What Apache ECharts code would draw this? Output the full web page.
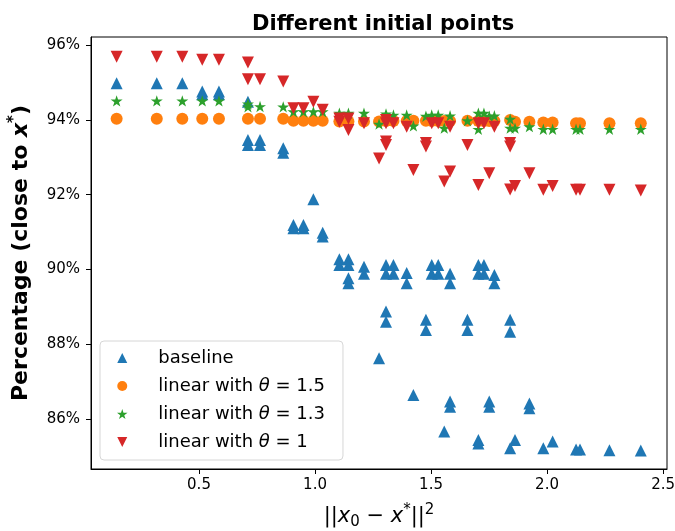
<!DOCTYPE html>
<html>
<head>
<meta charset="utf-8">
<script src="https://cdn.jsdelivr.net/npm/echarts@6/dist/echarts.min.js"></script>
<style>
  html, body { margin: 0; padding: 0; background: #fff; }
  #chart { width: 675px; height: 531px; }
</style>
</head>
<body>
<div id="chart"></div>
<script>
// values: [||x0 - x*||^2, percentage]
const baselinePts = [
  [0.145, 94.98], [0.318, 94.98], [0.428, 94.98], [0.514, 94.76], [0.514, 94.69], [0.586, 94.76], [0.586, 94.69],
  [0.711, 94.49], [0.711, 93.46], [0.711, 93.33], [0.763, 93.46], [0.763, 93.33], [0.863, 93.24], [0.863, 93.12],
  [0.907, 91.19], [0.907, 91.10], [0.950, 91.19], [0.950, 91.10], [0.993, 91.88], [1.033, 90.98], [1.033, 90.88],
  [1.105, 90.27], [1.105, 90.12], [1.144, 90.27], [1.144, 90.12], [1.144, 89.76], [1.144, 89.63],
  [1.211, 90.07], [1.211, 89.88], [1.276, 87.62],
  [1.306, 90.12], [1.306, 89.88], [1.306, 88.87], [1.306, 88.60], [1.338, 90.12], [1.338, 89.88],
  [1.395, 89.90], [1.395, 89.63], [1.424, 86.64], [1.478, 88.65], [1.478, 88.38],
  [1.503, 90.12], [1.503, 89.88], [1.531, 90.12], [1.531, 89.88], [1.557, 85.66],
  [1.582, 89.88], [1.582, 89.63], [1.582, 86.46], [1.582, 86.32], [1.657, 88.65], [1.657, 88.38],
  [1.704, 90.12], [1.704, 89.88], [1.704, 85.43], [1.704, 85.34], [1.728, 90.12], [1.728, 89.88],
  [1.751, 86.46], [1.751, 86.32], [1.773, 89.85], [1.773, 89.63],
  [1.841, 88.65], [1.841, 88.33], [1.841, 85.21], [1.862, 85.43], [1.924, 86.41], [1.924, 86.28],
  [1.984, 85.21], [2.024, 85.39], [2.125, 85.18], [2.142, 85.18], [2.269, 85.16], [2.404, 85.15]
]
const theta15Pts = [
  [0.145, 94.03], [0.318, 94.03], [0.428, 94.03], [0.514, 94.03], [0.586, 94.03], [0.711, 94.03], [0.763, 94.03], [0.863, 94.03],
  [0.907, 93.98], [0.950, 93.98], [0.993, 93.98], [1.033, 93.98],
  [1.105, 93.96], [1.144, 93.96], [1.211, 93.96], [1.276, 93.96],
  [1.306, 93.97], [1.338, 93.97], [1.395, 93.97], [1.424, 93.98], [1.478, 93.98], [1.503, 93.97], [1.531, 93.97],
  [1.557, 93.97], [1.582, 93.97], [1.657, 93.98], [1.704, 93.97], [1.728, 93.97], [1.751, 93.97], [1.773, 93.97],
  [1.841, 94.00], [1.862, 93.95], [1.924, 93.95], [1.984, 93.93], [2.024, 93.93],
  [2.125, 93.91], [2.142, 93.91], [2.269, 93.91], [2.404, 93.91]
]
const theta13Pts = [
  [0.145, 94.51], [0.318, 94.51], [0.428, 94.51], [0.514, 94.51], [0.586, 94.51],
  [0.711, 94.43], [0.711, 94.35], [0.763, 94.36], [0.863, 94.35],
  [0.907, 94.22], [0.950, 94.22], [0.993, 94.22], [1.033, 94.22],
  [1.105, 94.18], [1.144, 94.18], [1.211, 94.18], [1.276, 93.89], [1.306, 94.16], [1.338, 94.13],
  [1.395, 94.13], [1.424, 93.84], [1.478, 94.10], [1.503, 94.13], [1.531, 94.13], [1.557, 93.78], [1.582, 94.11],
  [1.657, 93.98], [1.704, 94.18], [1.704, 93.75], [1.728, 94.18], [1.751, 94.10], [1.773, 94.11],
  [1.841, 94.02], [1.841, 93.78], [1.862, 93.78], [1.924, 93.82], [1.984, 93.75], [2.024, 93.75],
  [2.125, 93.75], [2.142, 93.75], [2.269, 93.75], [2.404, 93.75]
]
const theta1Pts = [
  [0.145, 95.69], [0.318, 95.69], [0.428, 95.69], [0.514, 95.61], [0.586, 95.61],
  [0.711, 95.54], [0.711, 95.09], [0.763, 95.09], [0.863, 95.03],
  [0.907, 94.31], [0.950, 94.31], [0.993, 94.49], [1.033, 94.27],
  [1.105, 94.04], [1.105, 93.95], [1.144, 94.04], [1.144, 93.73], [1.211, 93.91], [1.276, 92.97],
  [1.306, 94.00], [1.306, 93.91], [1.306, 93.42], [1.306, 93.33], [1.338, 93.91], [1.395, 93.82], [1.424, 92.66],
  [1.478, 93.38], [1.478, 93.29], [1.503, 93.91], [1.531, 93.91], [1.557, 92.35], [1.582, 93.82], [1.582, 92.62],
  [1.657, 93.33], [1.704, 93.91], [1.704, 92.26], [1.728, 93.91], [1.751, 92.57], [1.773, 93.82],
  [1.841, 93.38], [1.841, 93.29], [1.841, 92.14], [1.862, 92.23], [1.924, 92.57], [1.984, 92.13], [2.024, 92.23],
  [2.125, 92.13], [2.142, 92.13], [2.269, 92.13], [2.404, 92.11]
]

const seriesNames = ['baseline', 'linear with θ = 1.5', 'linear with θ = 1.3', 'linear with θ = 1']
const xTicks = [0.5, 1.0, 1.5, 2.0, 2.5]
const yTicks = [86, 88, 90, 92, 94, 96]

const font = 'DejaVu Sans'
const upTriangle = 'path://M1,0L2,2L0,2Z'
const downTriangle = 'path://M0,0L2,0L1,2Z'
const starPath = 'path://M1,0L0.7755,0.691L0.049,0.691L0.6367,1.118L0.4122,1.809L1,1.382L1.5878,1.809L1.3633,1.118L1.951,0.691L1.2245,0.691Z'

const makeSeries = (name, data, symbol, color) => ({
  name: name,
  type: 'scatter',
  data: data,
  symbol: symbol,
  symbolSize: 12,
  symbolKeepAspect: true,
  itemStyle: { color: color, opacity: 1 },
  emphasis: { disabled: true },
  animation: false
})

const chart = echarts.init(document.getElementById('chart'))
chart.setOption({
  animation: false,
  title: {
    text: 'Different initial points',
    left: 247,
    top: 9,
    textStyle: { fontFamily: font, fontSize: 21, fontWeight: 'bold', color: '#000' }
  },
  grid: {
    left: 91, right: 8, top: 37, bottom: 62,
    outerBoundsMode: 'none',
    show: true, borderColor: '#000', borderWidth: 1, backgroundColor: 'transparent'
  },
  legend: {
    orient: 'vertical',
    left: 100,
    top: 341,
    padding: [8, 18, 9, 17],
    itemGap: 10,
    itemWidth: 20,
    itemHeight: 10,
    backgroundColor: 'rgba(255,255,255,0.8)',
    borderColor: '#d6d6d6',
    borderWidth: 1,
    borderRadius: 4,
    data: seriesNames,
    formatter: (name) => {
      const m = name.match(/^linear with θ = (.*)$/)
      if (m) return '{sp| }linear with {i|θ} = ' + m[1]
      return '{sp| }' + name
    },
    textStyle: {
      fontFamily: font,
      fontSize: 18,
      color: '#000',
      rich: {
        sp: { width: 21, fontSize: 18 },
        i: { fontStyle: 'italic', fontFamily: font, fontSize: 18, color: '#000' }
      }
    }
  },
  xAxis: {
    type: 'value',
    min: 0.0345,
    max: 2.517,
    name: '{a|||}{i|x}{sub|0}{a| − }{i|x}{sup|*}{a|||}{sup|2}',
    nameLocation: 'middle',
    nameGap: 34,
    nameTextStyle: {
      fontFamily: font,
      fontSize: 21,
      color: '#000',
      rich: {
        a: { fontFamily: font, fontSize: 21, color: '#000', lineHeight: 27 },
        i: { fontFamily: font, fontSize: 21, fontStyle: 'italic', color: '#000', lineHeight: 27 },
        sub: { fontFamily: font, fontSize: 15, color: '#000', verticalAlign: 'bottom', lineHeight: 27 },
        sup: { fontFamily: font, fontSize: 15, color: '#000', verticalAlign: 'top', lineHeight: 27 }
      }
    },
    splitLine: { show: false },
    axisLine: { show: true, onZero: false, lineStyle: { color: '#000', width: 1 } },
    axisTick: { show: true, length: 5, lineStyle: { color: '#000' }, customValues: xTicks },
    axisLabel: {
      fontFamily: font, fontSize: 15, color: '#000', margin: 9,
      customValues: xTicks,
      formatter: (v) => v.toFixed(1)
    }
  },
  yAxis: {
    type: 'value',
    min: 84.656,
    max: 96.22,
    name: 'Percentage (close to {i|x}{sup|*})',
    nameLocation: 'middle',
    nameRotate: 90,
    nameGap: 55,
    nameTextStyle: {
      fontFamily: font,
      fontSize: 22,
      fontWeight: 'bold',
      color: '#000',
      rich: {
        i: { fontFamily: font, fontSize: 22, fontStyle: 'italic', color: '#000', lineHeight: 29 },
        sup: { fontFamily: font, fontSize: 15, color: '#000', verticalAlign: 'top', lineHeight: 29 }
      }
    },
    splitLine: { show: false },
    axisLine: { show: true, onZero: false, lineStyle: { color: '#000', width: 1 } },
    axisTick: { show: true, length: 5, lineStyle: { color: '#000' }, customValues: yTicks },
    axisLabel: {
      fontFamily: font, fontSize: 15, color: '#000', margin: 11,
      customValues: yTicks,
      formatter: (v) => v + '%'
    }
  },
  series: [
    makeSeries(seriesNames[0], baselinePts, upTriangle, '#1f77b4'),
    makeSeries(seriesNames[1], theta15Pts, 'circle', '#ff7f0e'),
    makeSeries(seriesNames[2], theta13Pts, starPath, '#2ca02c'),
    makeSeries(seriesNames[3], theta1Pts, downTriangle, '#d62728')
  ]
})
</script>
</body>
</html>
